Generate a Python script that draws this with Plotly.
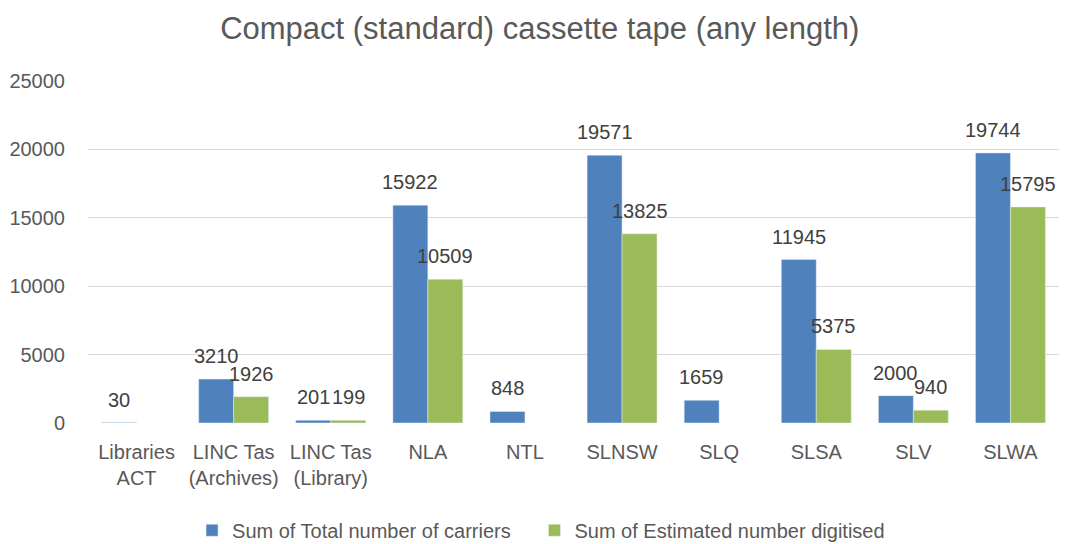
import plotly.graph_objects as go

categories = ["Libraries<br>ACT", "LINC Tas<br>(Archives)", "LINC Tas<br>(Library)", "NLA", "NTL",
              "SLNSW", "SLQ", "SLSA", "SLV", "SLWA"]
total_carriers = [30, 3210, 201, 15922, 848, 19571, 1659, 11945, 2000, 19744]
est_digitised = [None, 1926, 199, 10509, None, 13825, None, 5375, 940, 15795]
y_ticks = [0, 5000, 10000, 15000, 20000, 25000]

FONT = "Liberation Sans Narrow, Arial Narrow, Liberation Sans, Arial, sans-serif"
BLUE = "#4f81bd"
GREEN = "#9bbb59"

fig = go.Figure()
fig.add_trace(go.Bar(
    x=categories, y=total_carriers, name="Sum of Total number of carriers",
    marker_color=BLUE, legend="legend",
))
fig.add_trace(go.Bar(
    x=categories, y=est_digitised, name="Sum of Estimated number digitised",
    marker_color=GREEN, legend="legend2",
))

# data labels above bars
half_bar = 17.5
for series, shift in ((total_carriers, -half_bar), (est_digitised, half_bar)):
    for cat, v in zip(categories, series):
        if v is None:
            continue
        fig.add_annotation(x=cat, y=v, text=str(v), showarrow=False, xshift=shift, yshift=23,
                           yanchor="middle", font=dict(size=20, color="#404040", family=FONT))

legend_common = dict(orientation="h", yref="container", y=0.04, yanchor="middle",
                     xref="container", xanchor="left", bgcolor="rgba(0,0,0,0)",
                     font=dict(size=20, color="#595959", family=FONT))

fig.update_layout(
    width=1070, height=544,
    margin=dict(l=80, r=19, t=73, b=129, autoexpand=False),
    paper_bgcolor="white", plot_bgcolor="white",
    font=dict(family=FONT, color="#595959", size=20),
    title=dict(text="Compact (standard) cassette tape (any length)", x=0.497, xanchor="center",
               xref="container", yref="container",
               y=0.963, yanchor="middle", font=dict(size=31, color="#595959", family=FONT)),
    barmode="group", bargap=0.28, bargroupgap=0,
    legend=dict(x=0.172, **legend_common),
    legend2=dict(x=0.492, **legend_common),
    showlegend=True,
)
fig.update_yaxes(range=[0, 25000], tickvals=y_ticks, ticktext=[str(t) for t in y_ticks],
                 showgrid=True, gridcolor="#d9d9d9", gridwidth=1, zeroline=False, automargin=False,
                 showline=False, ticklabelstandoff=22, tickfont=dict(size=20, color="#595959"))
fig.update_xaxes(showline=False, showgrid=False, tickfont=dict(size=20, color="#595959"),
                 ticklabelstandoff=15, automargin=False)

fig.write_html("out.html")
